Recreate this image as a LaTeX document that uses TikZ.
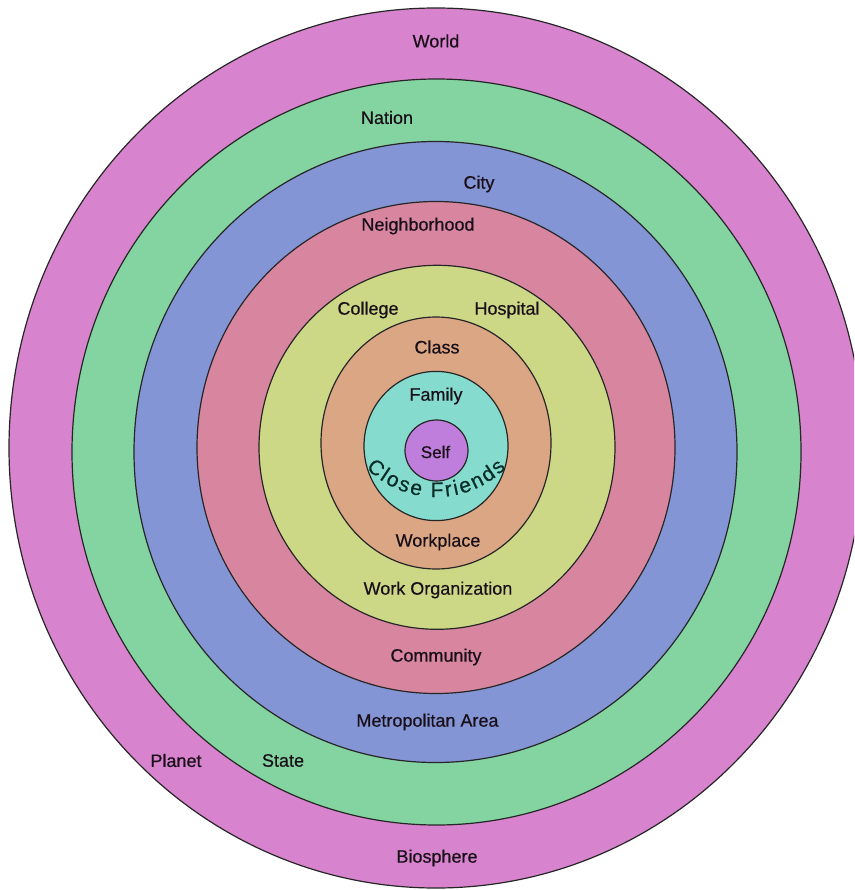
\documentclass[tikz,border=0pt]{standalone}
\usepackage{fontspec}
\setmainfont{Liberation Sans}
\newfontfamily\lblfont{Liberation Sans}[FakeBold=0.5]
\usetikzlibrary{decorations.text}
\definecolor{cWorld}{RGB}{215,131,205}
\definecolor{cNation}{RGB}{131,212,161}
\definecolor{cCity}{RGB}{132,149,214}
\definecolor{cHood}{RGB}{216,134,160}
\definecolor{cCollege}{RGB}{205,216,135}
\definecolor{cClass}{RGB}{219,166,131}
\definecolor{cFamily}{RGB}{133,220,206}
\definecolor{cSelf}{RGB}{192,126,220}
\definecolor{txt}{RGB}{25,15,25}
\definecolor{cfTxt}{RGB}{10,45,40}
\begin{document}
\begin{tikzpicture}[x=1pt,y=-1pt,
  ring/.style={draw=black!85, line width=1.2pt},
  lbl/.style={font=\lblfont\fontsize{18}{20}\selectfont, text=txt, inner sep=0pt}]
\useasboundingbox (0,0) rectangle (854,890);
\fill[white] (0,0) rectangle (854,890);
\begin{scope}
\clip (0,0) rectangle (854,890);
\draw[ring, fill=cWorld]   (436,448)   ellipse [x radius=427,   y radius=440];
\draw[ring, fill=cNation]  (436.5,452) ellipse [x radius=364.5, y radius=373];
\draw[ring, fill=cCity]    (435.5,452) ellipse [x radius=301.5, y radius=310.5];
\draw[ring, fill=cHood]    (436,447.5) ellipse [x radius=239,   y radius=246];
\draw[ring, fill=cCollege] (437,447.3) ellipse [x radius=178,   y radius=182];
\draw[ring, fill=cClass]   (436,443)   ellipse [x radius=115,   y radius=126];
\draw[ring, fill=cFamily]  (436,446)   ellipse [x radius=72,    y radius=74.6];
\draw[ring, fill=cSelf]    (436.5,450.5) ellipse [x radius=31.5, y radius=30.5];
\end{scope}
\node[lbl] (world) at (436,41) {World};
\node[lbl] (nation) at (387,117.5) {Nation};
\node[lbl] (city) at (479,184) {City};
\node[lbl] (hood) at (418,226) {Neighborhood};
\node[lbl] (college) at (368,310) {College};
\node[lbl] (hospital) at (507,310) {Hospital};
\node[lbl] (class) at (437,347) {Class};
\node[lbl] (family) at (436,396) {Family};
\node[lbl, font=\lblfont\fontsize{17}{19}\selectfont] (self) at (435.5,452) {Self};
\node[lbl] (workplace) at (438,542) {Workplace};
\node[lbl] (workorg) at (438,590) {Work Organization};
\node[lbl] (community) at (436,657) {Community};
\node[lbl] (metro) at (427.5,722) {Metropolitan Area};
\node[lbl] (planet) at (176,760.5) {Planet};
\node[lbl] (state) at (283,760.5) {State};
\node[lbl] (bio) at (437,858) {Biosphere};
\coordinate (cfc) at (436,398);
\path[decorate, decoration={text along path, text align=fit to path,
  text={|\lblfont\fontsize{21}{23}\selectfont\color{cfTxt}|Close Friends}}]
  (cfc) ++(135:99) arc[start angle=135, end angle=45, radius=99];
\end{tikzpicture}
\end{document}
